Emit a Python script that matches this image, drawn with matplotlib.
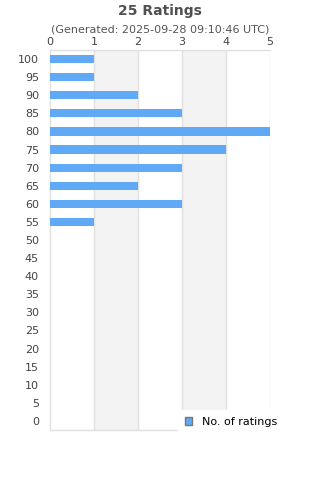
import matplotlib

matplotlib.use("Agg")

import matplotlib.pyplot as plt
from matplotlib.patches import Patch

# Rating buckets (0..100 step 5) and number of ratings in each
scores = [0, 5, 10, 15, 20, 25, 30, 35, 40, 45, 50,
          55, 60, 65, 70, 75, 80, 85, 90, 95, 100]
counts = [0, 0, 0, 0, 0, 0, 0, 0, 0, 0, 0,
          1, 3, 2, 3, 4, 5, 3, 2, 1, 1]
x_ticks = [0, 1, 2, 3, 4, 5]

title = "25 Ratings"
subtitle = "(Generated: 2025-09-28 09:10:46 UTC)"

_BAR = "#60a9f6"
_TEXT = "#444444"
_GRID = "#e0e0e0"
_BAND = "#f3f3f3"

fig = plt.figure(figsize=(3.2, 4.8), dpi=100)
ax = fig.add_axes([50 / 320, 1 - 430 / 480, 220 / 320, 380 / 480])

pos = list(range(len(scores)))
ax.barh(pos, counts, height=0.45, color=_BAR, zorder=3)

# alternating shaded columns
for i in range(1, len(x_ticks) - 1, 2):
    ax.axvspan(x_ticks[i], x_ticks[i + 1], color=_BAND, zorder=0, lw=0)
for x in x_ticks[1:]:
    ax.axvline(x, color=_GRID, lw=1.0, zorder=1)

ax.set_xlim(0, 5)
ax.set_ylim(-0.5, len(scores) - 0.5)
ax.set_yticks(pos)
ax.set_yticklabels([str(s) for s in scores])
ax.set_xticks(x_ticks)
ax.xaxis.tick_top()
ax.tick_params(axis="both", length=0, labelsize=8, colors=_TEXT, pad=2)
ax.tick_params(axis="y", pad=8)

ax.spines["right"].set_visible(False)
for side in ("left", "bottom", "top"):
    ax.spines[side].set_color(_GRID)
    ax.spines[side].set_linewidth(1.0)

fig.text(0.5, 1 - 11 / 480, title, ha="center", va="center",
         fontsize=10, fontweight="bold", color="#505050")
fig.text(0.5, 1 - 30 / 480, subtitle, ha="center", va="center",
         fontsize=8, color="#555555")

leg = fig.legend(handles=[Patch(facecolor=_BAR, edgecolor="#777777", lw=1.0,
                                label="No. of ratings")],
                 loc="center left", bbox_to_anchor=(178 / 320, 1 - 422 / 480),
                 frameon=True, fontsize=8, handlelength=0.7, handleheight=0.7,
                 borderpad=0.6, borderaxespad=0.0, handletextpad=0.9)
leg.get_frame().set_edgecolor("white")
leg.get_frame().set_facecolor("white")
leg.get_frame().set_alpha(1.0)
leg.get_frame().set_boxstyle("square", pad=0)
leg.set_zorder(10)

fig.savefig("out.png", dpi=100)
